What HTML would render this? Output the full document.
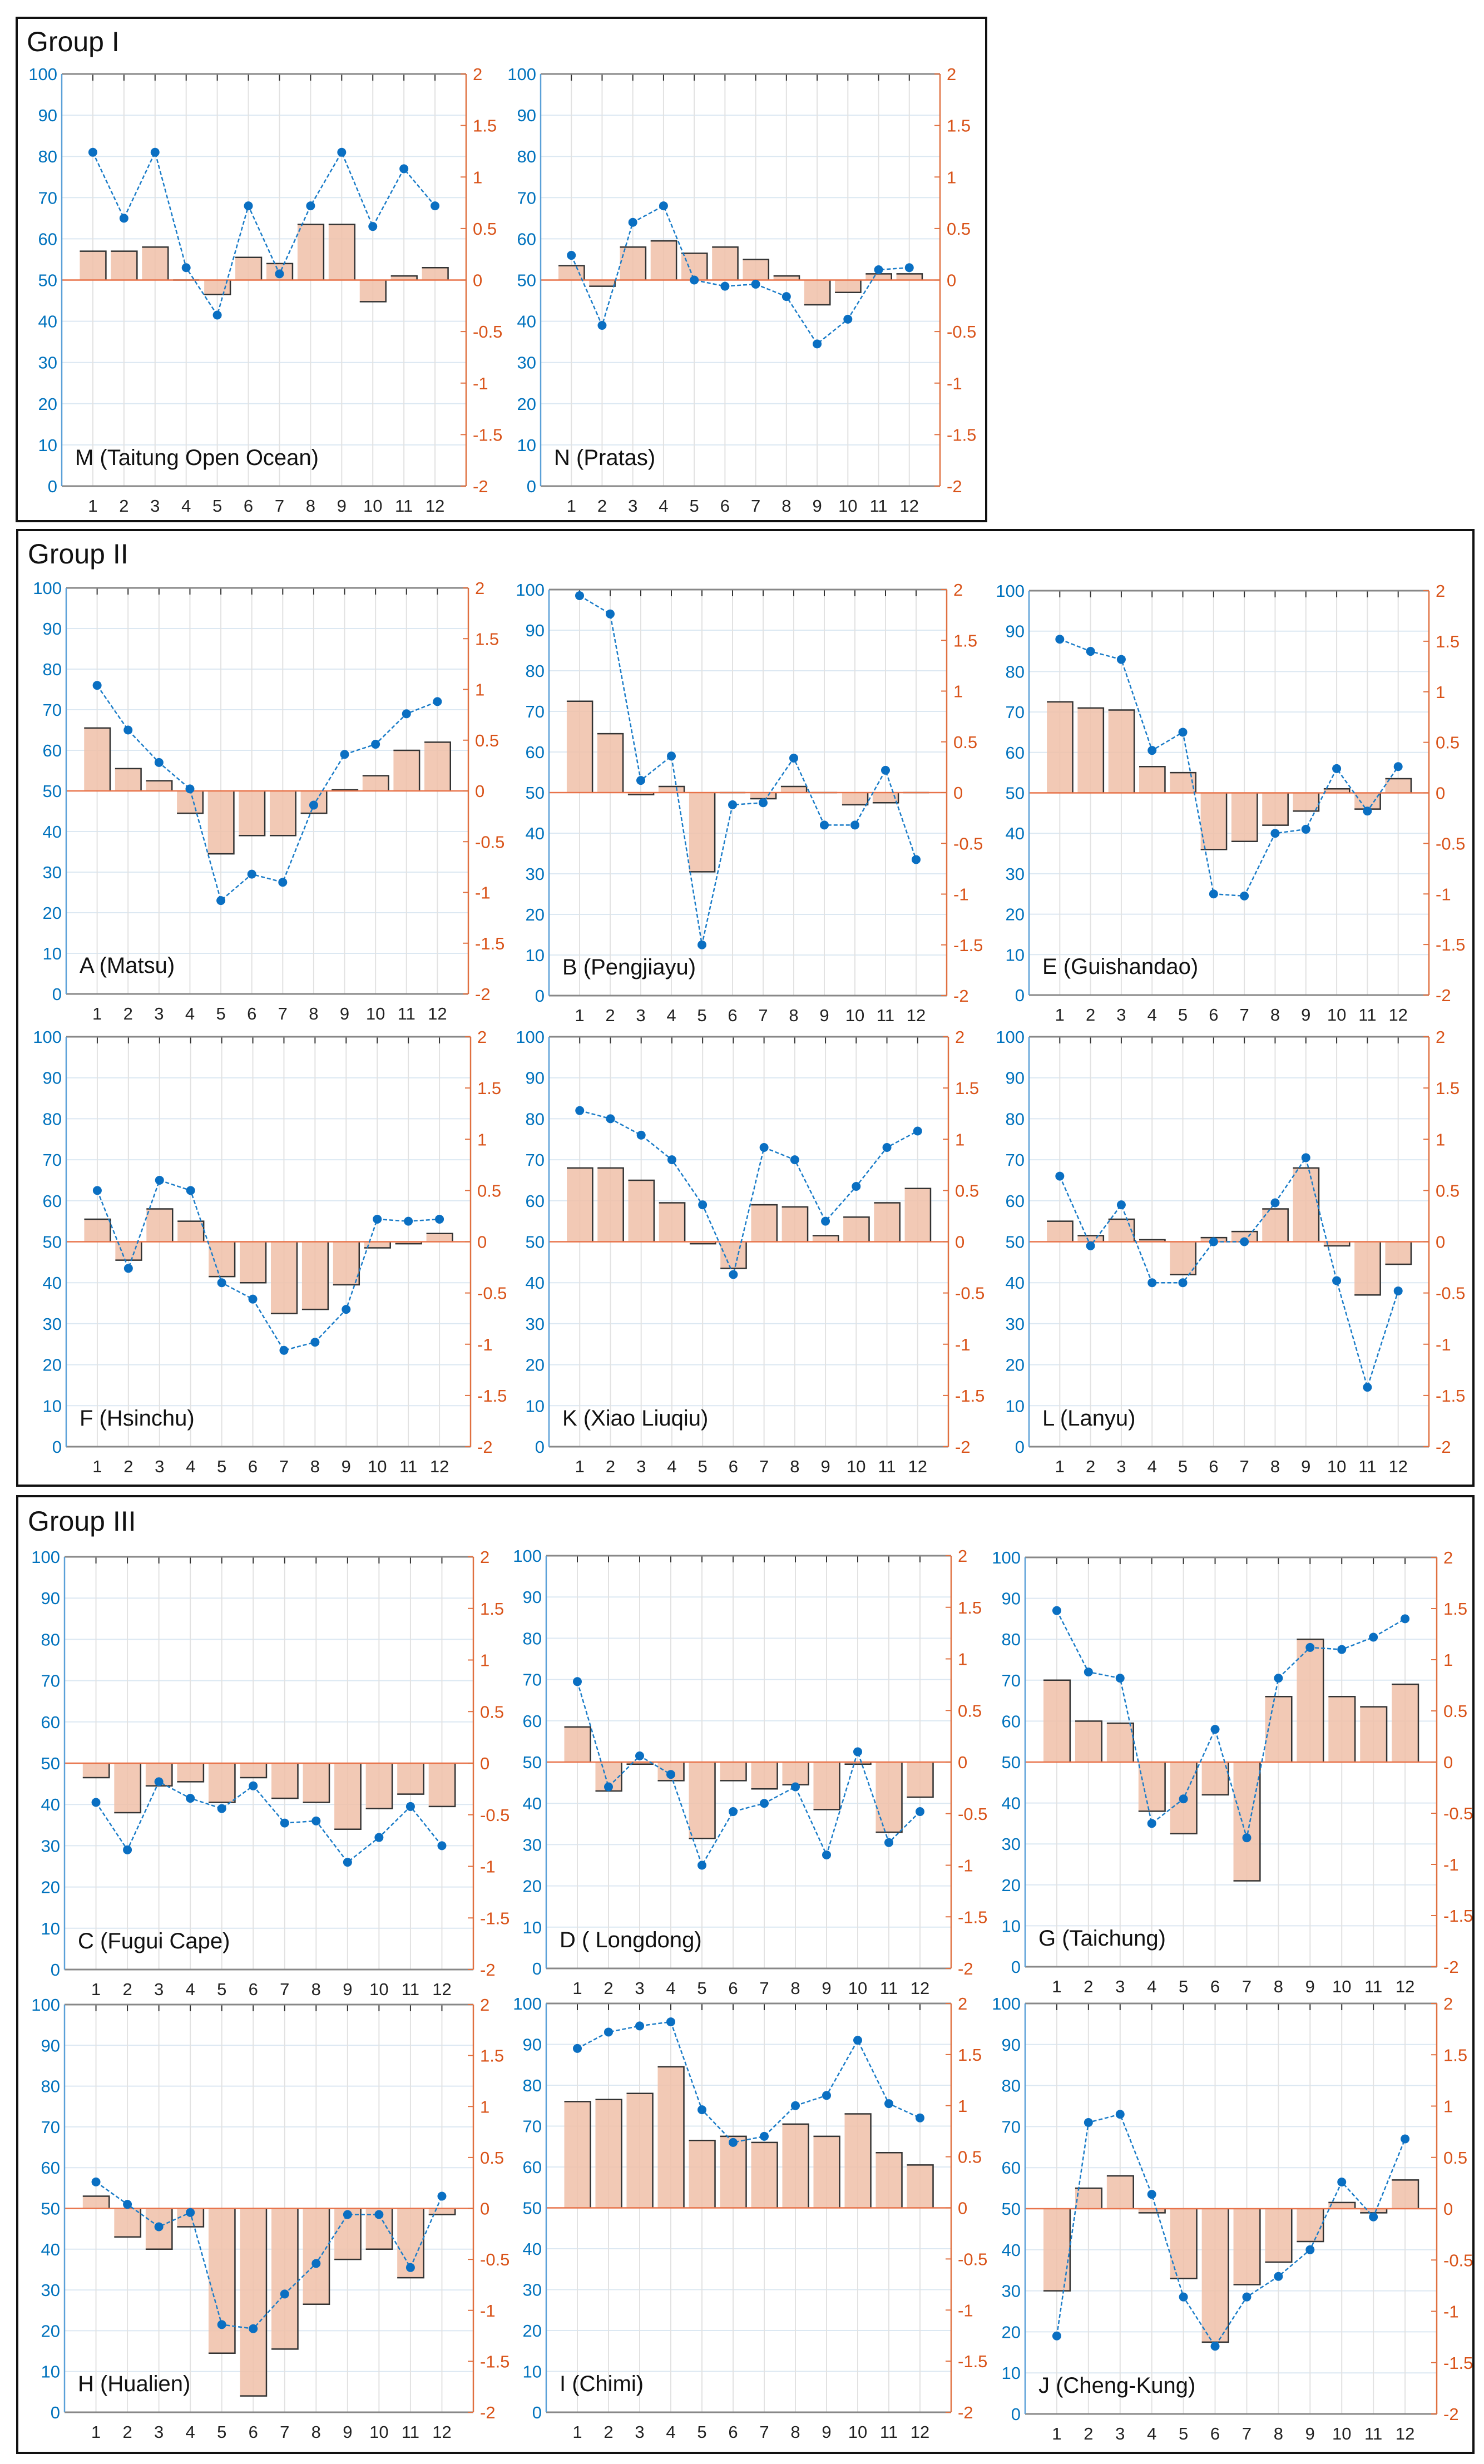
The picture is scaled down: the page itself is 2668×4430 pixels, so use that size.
<!DOCTYPE html>
<html><head><meta charset="utf-8">
<style>
body{margin:0;background:#fff;}
svg{display:block;font-family:"Liberation Sans",sans-serif;}
</style></head>
<body>
<svg id="fig" width="2668" height="4430" viewBox="0 0 2668 4430" xmlns="http://www.w3.org/2000/svg">
<rect x="0" y="0" width="2668" height="4430" fill="#fff"/>
<rect x="30" y="32" width="1743" height="905" fill="none" stroke="#111" stroke-width="4"/>
<text x="48" y="92" font-size="50" fill="#111">Group I</text>
<rect x="31" y="953" width="2618" height="1718" fill="none" stroke="#111" stroke-width="4"/>
<text x="50" y="1013" font-size="50" fill="#111">Group II</text>
<rect x="31" y="2690" width="2618" height="1720" fill="none" stroke="#111" stroke-width="4"/>
<text x="50" y="2752" font-size="50" fill="#111">Group III</text>
</svg>
<script>
const months=[1,2,3,4,5,6,7,8,9,10,11,12];
const leftTicks=[0,10,20,30,40,50,60,70,80,90,100];
const rightTicks=[-2,-1.5,-1,-0.5,0,0.5,1,1.5,2];
const rightTickLabels=["-2","-1.5","-1","-0.5","0","0.5","1","1.5","2"];
const lineM=[81,65,81,53,41.5,68,51.5,68,81,63,77,68];
const barM=[0.28,0.28,0.32,0,-0.14,0.22,0.16,0.54,0.54,-0.21,0.04,0.12];
const lineN=[56,39,64,68,50,48.5,49,46,34.5,40.5,52.5,53];
const barN=[0.14,-0.06,0.32,0.38,0.26,0.32,0.2,0.04,-0.24,-0.12,0.06,0.06];
const lineA=[76,65,57,50.5,23,29.5,27.5,46.5,59,61.5,69,72];
const barA=[0.62,0.22,0.1,-0.22,-0.62,-0.44,-0.44,-0.22,0.01,0.15,0.4,0.48];
const lineB=[98.5,94,53,59,12.5,47,47.5,58.5,42,42,55.5,33.5];
const barB=[0.9,0.58,-0.02,0.06,-0.78,0,-0.06,0.06,0,-0.12,-0.1,0];
const lineE=[88,85,83,60.5,65,25,24.5,40,41,56,45.5,56.5];
const barE=[0.9,0.84,0.82,0.26,0.2,-0.56,-0.48,-0.32,-0.18,0.04,-0.16,0.14];
const lineF=[62.5,43.5,65,62.5,40,36,23.5,25.5,33.5,55.5,55,55.5];
const barF=[0.22,-0.18,0.32,0.2,-0.34,-0.4,-0.7,-0.66,-0.42,-0.06,-0.02,0.08];
const lineK=[82,80,76,70,59,42,73,70,55,63.5,73,77];
const barK=[0.72,0.72,0.6,0.38,-0.02,-0.26,0.36,0.34,0.06,0.24,0.38,0.52];
const lineL=[66,49,59,40,40,50,50,59.5,70.5,40.5,14.5,38];
const barL=[0.2,0.06,0.22,0.02,-0.32,0.04,0.1,0.32,0.72,-0.04,-0.52,-0.22];
const lineC=[40.5,29,45.5,41.5,39,44.5,35.5,36,26,32,39.5,30];
const barC=[-0.14,-0.48,-0.22,-0.18,-0.38,-0.14,-0.34,-0.38,-0.64,-0.44,-0.3,-0.42];
const lineD=[69.5,44,51.5,47,25,38,40,44,27.5,52.5,30.5,38];
const barD=[0.34,-0.28,-0.02,-0.18,-0.74,-0.18,-0.26,-0.22,-0.46,-0.02,-0.68,-0.34];
const lineG=[87,72,70.5,35,41,58,31.5,70.5,78,77.5,80.5,85];
const barG=[0.8,0.4,0.38,-0.48,-0.7,-0.32,-1.16,0.64,1.2,0.64,0.54,0.76];
const lineH=[56.5,51,45.5,49,21.5,20.5,29,36.5,48.5,48.5,35.5,53];
const barH=[0.12,-0.28,-0.4,-0.18,-1.42,-1.84,-1.38,-0.94,-0.5,-0.4,-0.68,-0.06];
const lineI=[89,93,94.5,95.5,74,66,67.5,75,77.5,91,75.5,72];
const barI=[1.04,1.06,1.12,1.38,0.66,0.7,0.64,0.82,0.7,0.92,0.54,0.42];
const lineJ=[19,71,73,53.5,28.5,16.5,28.5,33.5,40,56.5,48,67];
const barJ=[-0.8,0.2,0.32,-0.04,-0.68,-1.3,-0.74,-0.52,-0.32,0.06,-0.04,0.28];

const panels=[
 {id:'m',label:'M (Taitung Open Ocean)',l:111,r:838,t:133,b:874,line:lineM,bar:barM},
 {id:'n',label:'N (Pratas)',l:972,r:1690,t:133,b:874,line:lineN,bar:barN},
 {id:'a',label:'A (Matsu)',l:119,r:842,t:1057,b:1787,line:lineA,bar:barA},
 {id:'b',label:'B (Pengjiayu)',l:987,r:1702,t:1060,b:1790,line:lineB,bar:barB},
 {id:'e',label:'E (Guishandao)',l:1850,r:2569,t:1062,b:1789,line:lineE,bar:barE},
 {id:'f',label:'F (Hsinchu)',l:119,r:846,t:1864,b:2601,line:lineF,bar:barF},
 {id:'k',label:'K (Xiao Liuqiu)',l:987,r:1705,t:1864,b:2601,line:lineK,bar:barK},
 {id:'l',label:'L (Lanyu)',l:1850,r:2569,t:1864,b:2601,line:lineL,bar:barL},
 {id:'c',label:'C (Fugui Cape)',l:116,r:851,t:2799,b:3541,line:lineC,bar:barC},
 {id:'d',label:'D ( Longdong)',l:982,r:1710,t:2797,b:3539,line:lineD,bar:barD},
 {id:'g',label:'G (Taichung)',l:1843,r:2583,t:2800,b:3536,line:lineG,bar:barG},
 {id:'h',label:'H (Hualien)',l:116,r:851,t:3604,b:4337,line:lineH,bar:barH},
 {id:'i',label:'I (Chimi)',l:982,r:1710,t:3602,b:4337,line:lineI,bar:barI},
 {id:'j',label:'J (Cheng-Kung)',l:1843,r:2583,t:3602,b:4340,line:lineJ,bar:barJ}
];
const NS='http://www.w3.org/2000/svg';
const svg=document.getElementById('fig');
function mk(tag,attrs,parent){const e=document.createElementNS(NS,tag);for(const k in attrs)e.setAttribute(k,attrs[k]);parent.appendChild(e);return e;}
panels.forEach(p=>{
 const g=mk('g',{},svg);
 
 
 const xs=m=>p.l+(p.r-p.l)*m/13;
 const yl=v=>p.b-(p.b-p.t)*v/100;
 const yr=v=>p.b-(p.b-p.t)*(v+2)/4;
 const sp=(p.r-p.l)/13;
 // grid
 leftTicks.forEach(v=>{if(v>0&&v<100)mk('line',{x1:p.l,x2:p.r,y1:yl(v),y2:yl(v),stroke:'#dce8f2','stroke-width':2},g);});
 months.forEach(m=>{mk('line',{x1:xs(m),x2:xs(m),y1:p.t,y2:p.b,stroke:'#e2e2e2','stroke-width':2},g);
  mk('line',{x1:xs(m),x2:xs(m),y1:p.t,y2:p.t+12,stroke:'#333','stroke-width':2},g);});
 // bars
 p.bar.forEach((v,i)=>{
  const x=xs(months[i])-sp*0.42, w=sp*0.84;
  const y0=yr(0), y1=yr(v);
  const r=mk('rect',{x:x,y:Math.min(y0,y1),width:w,height:Math.max(1,Math.abs(y1-y0)),fill:'#f0bfa8','fill-opacity':0.85},g);
  
  
  mk('polyline',{points:`${x},${y1} ${x+w},${y1} ${x+w},${y0}`,fill:'none',stroke:'#333','stroke-width':2.5},g);
 });
 // zero line
 mk('line',{x1:p.l,x2:p.r,y1:yr(0),y2:yr(0),stroke:'#e8734a','stroke-width':2.5},g);
 // frame
 mk('line',{x1:p.l,x2:p.r,y1:p.t,y2:p.t,stroke:'#888','stroke-width':3},g);
 mk('line',{x1:p.l,x2:p.r,y1:p.b,y2:p.b,stroke:'#888','stroke-width':3},g);
 const la=mk('line',{x1:p.l,x2:p.l,y1:p.t,y2:p.b,stroke:'#5aa0d8','stroke-width':2.5},g);
 
 
 const ra=mk('line',{x1:p.r,x2:p.r,y1:p.t,y2:p.b,stroke:'#e07040','stroke-width':2.5},g);
 
 
 leftTicks.forEach(v=>{const t=mk('text',{x:p.l-8,y:yl(v)+11,'font-size':31,fill:'#0072bd','text-anchor':'end'},g);t.textContent=v;
  
  });
 rightTicks.forEach((v,i)=>{mk('line',{x1:p.r-10,x2:p.r,y1:yr(v),y2:yr(v),stroke:'#e07040','stroke-width':2},g);
  const t=mk('text',{x:p.r+12,y:yr(v)+11,'font-size':31,fill:'#d95319'},g);t.textContent=rightTickLabels[i];
  
  });
 months.forEach(m=>{const t=mk('text',{x:xs(m),y:p.b+46,'font-size':31,fill:'#222','text-anchor':'middle'},g);t.textContent=m;
  
  });
 // line series
 const pts=p.line.map((v,i)=>xs(months[i])+','+yl(v)).join(' ');
 const pl=mk('polyline',{points:pts,fill:'none',stroke:'#1a7cc8','stroke-width':2.5,'stroke-dasharray':'7,4'},g);
 
 
 p.line.forEach((v,i)=>{const c=mk('circle',{cx:xs(months[i]),cy:yl(v),r:8,fill:'#0a6fc2'},g);
  
  });
 const lab=mk('text',{x:p.l+24,y:p.b-38,'font-size':40,fill:'#111'},g);
 lab.textContent=p.label;
 
 
});
</script>
</body></html>
